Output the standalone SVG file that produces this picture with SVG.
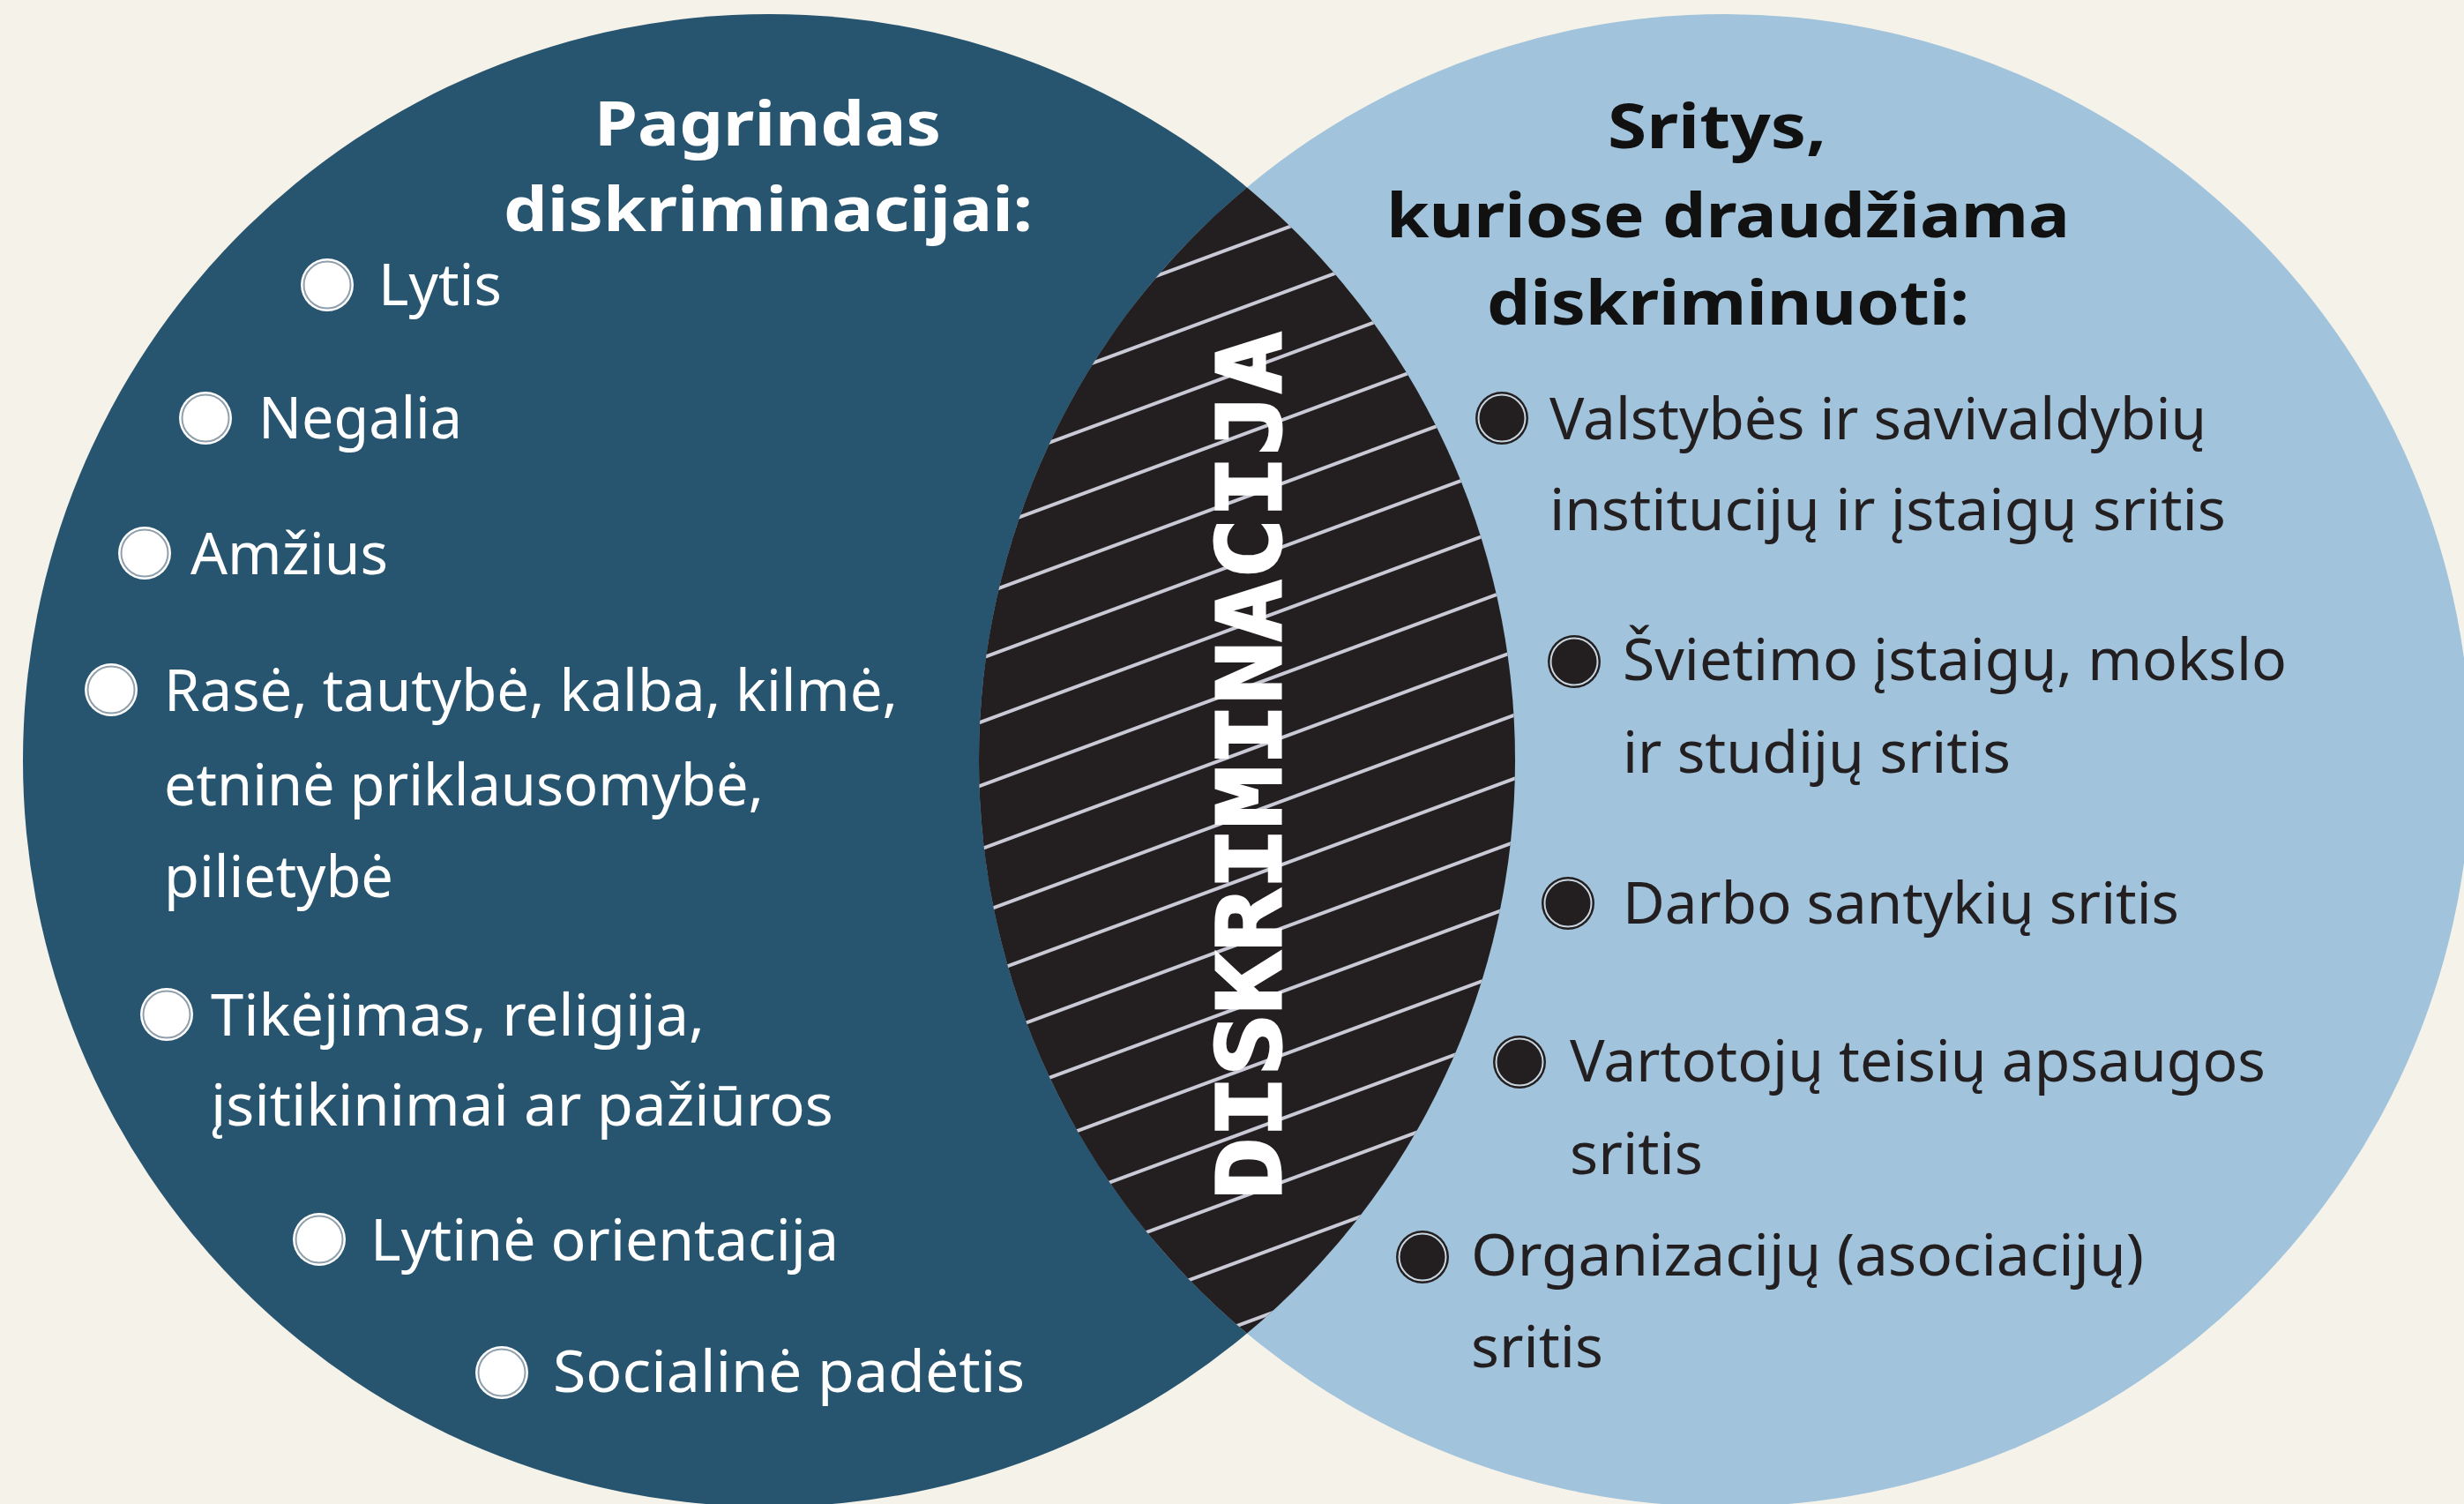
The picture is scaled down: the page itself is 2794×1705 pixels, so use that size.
<svg xmlns="http://www.w3.org/2000/svg" width="2794" height="1705" viewBox="0 0 2794 1705">
<style>
.bg{fill:#F5F2EA}
.cl{fill:#27546E}
.cr{fill:#A1C3DB}
.lens{fill:#231F20}
.stripe{stroke:#C9CAD6;stroke-width:4;fill:none}
.tw{font-family:"Noto Sans","Open Sans","Liberation Sans",sans-serif;font-size:66px;fill:#FFFFFF}
.td{font-family:"Noto Sans","Open Sans","Liberation Sans",sans-serif;font-size:66px;fill:#231F20}
.hw{font-family:"Noto Sans","Liberation Sans",sans-serif;font-weight:700;font-size:70px;fill:#FFFFFF}
.hd{font-family:"Noto Sans","Liberation Sans",sans-serif;font-weight:700;font-size:70px;fill:#111111}
.vt{font-family:"DejaVu Sans Mono","Liberation Mono",monospace;font-weight:700;font-size:100px;fill:#FFFFFF;stroke:#FFFFFF;stroke-width:3}
.bwo{fill:#FFFFFF}
.bwi{fill:#FFFFFF;stroke:#8FA0AC;stroke-width:2}
.bdo{fill:#231F20}
.bdi{fill:#231F20;stroke:#C9D6E0;stroke-width:2}
</style>
<defs>
<clipPath id="lensClip">
<path d="M1414,212.4 A846,846 0 0 1 1414,1511.6 A846,846 0 0 1 1414,212.4 Z"/>
</clipPath>
</defs>
<rect class="bg" x="0" y="0" width="2794" height="1705"/>
<g id="circle-left"><circle class="cl" cx="872" cy="862" r="846"/></g>
<g id="circle-right"><circle class="cr" cx="1956" cy="862" r="846"/></g>
<g id="intersection">
<path class="lens" d="M1414,212.4 A846,846 0 0 1 1414,1511.6 A846,846 0 0 1 1414,212.4 Z"/>
<g clip-path="url(#lensClip)">
<path class="stripe" d="M1100,175 L1730,-58.1 M1100,247 L1730,13.9 M1100,319 L1730,85.9 M1100,391 L1730,157.9 M1100,463 L1730,229.9 M1100,535 L1730,301.9 M1100,607 L1730,373.9 M1100,679 L1730,445.9 M1100,751 L1730,517.9 M1100,823 L1730,589.9 M1100,895 L1730,661.9 M1100,967 L1730,733.9 M1100,1039 L1730,805.9 M1100,1111 L1730,877.9 M1100,1183 L1730,949.9 M1100,1255 L1730,1021.9 M1100,1327 L1730,1093.9 M1100,1399 L1730,1165.9 M1100,1471 L1730,1237.9 M1100,1543 L1730,1309.9 M1100,1615 L1730,1381.9 M1100,1687 L1730,1453.9 M1100,1759 L1730,1525.9"/>
</g>
<text class="vt" transform="translate(1452,1360) rotate(-90)" x="0" y="0" textLength="984" lengthAdjust="spacingAndGlyphs">DISKRIMINACIJA</text>
</g>
<g id="left-title">
<text class="hw" x="674" y="165" textLength="393" lengthAdjust="spacingAndGlyphs">Pagrindas</text>
<text class="hw" x="571" y="262" textLength="600" lengthAdjust="spacingAndGlyphs">diskriminacijai:</text>
</g>
<g id="left-items">
<g id="item-lytis"><circle class="bwo" cx="371" cy="323" r="30"/><circle class="bwi" cx="371" cy="323" r="26.5"/><text class="tw" x="429" y="346" textLength="140" lengthAdjust="spacingAndGlyphs">Lytis</text></g>
<g id="item-negalia"><circle class="bwo" cx="233" cy="474" r="30"/><circle class="bwi" cx="233" cy="474" r="26.5"/><text class="tw" x="293" y="497" textLength="231" lengthAdjust="spacingAndGlyphs">Negalia</text></g>
<g id="item-amzius"><circle class="bwo" cx="164" cy="627" r="30"/><circle class="bwi" cx="164" cy="627" r="26.5"/><text class="tw" x="216" y="651" textLength="224" lengthAdjust="spacingAndGlyphs">Amžius</text></g>
<g id="item-rase"><circle class="bwo" cx="126" cy="782" r="30"/><circle class="bwi" cx="126" cy="782" r="26.5"/>
<text class="tw" x="186" y="806" textLength="832" lengthAdjust="spacingAndGlyphs">Rasė, tautybė, kalba, kilmė,</text>
<text class="tw" x="186" y="913" textLength="680" lengthAdjust="spacingAndGlyphs">etninė priklausomybė,</text>
<text class="tw" x="186" y="1017" textLength="260" lengthAdjust="spacingAndGlyphs">pilietybė</text></g>
<g id="item-tikejimas"><circle class="bwo" cx="189" cy="1150" r="30"/><circle class="bwi" cx="189" cy="1150" r="26.5"/>
<text class="tw" x="239" y="1174" textLength="560" lengthAdjust="spacingAndGlyphs">Tikėjimas, religija,</text>
<text class="tw" x="239" y="1276" textLength="706" lengthAdjust="spacingAndGlyphs">įsitikinimai ar pažiūros</text></g>
<g id="item-orientacija"><circle class="bwo" cx="362" cy="1405" r="30"/><circle class="bwi" cx="362" cy="1405" r="26.5"/><text class="tw" x="420" y="1429" textLength="531" lengthAdjust="spacingAndGlyphs">Lytinė orientacija</text></g>
<g id="item-socialine"><circle class="bwo" cx="569" cy="1556" r="30"/><circle class="bwi" cx="569" cy="1556" r="26.5"/><text class="tw" x="627" y="1578" textLength="535" lengthAdjust="spacingAndGlyphs">Socialinė padėtis</text></g>
</g>
<g id="right-title">
<text class="hd" x="1823" y="168" textLength="248" lengthAdjust="spacingAndGlyphs">Sritys,</text>
<text class="hd" x="1572" y="269" textLength="775" lengthAdjust="spacingAndGlyphs">kuriose draudžiama</text>
<text class="hd" x="1686" y="368" textLength="547" lengthAdjust="spacingAndGlyphs">diskriminuoti:</text>
</g>
<g id="right-items">
<g id="item-valstybes"><circle class="bdo" cx="1703" cy="474" r="30"/><circle class="bdi" cx="1703" cy="474" r="26.5"/>
<text class="td" x="1757" y="498" textLength="745" lengthAdjust="spacingAndGlyphs">Valstybės ir savivaldybių</text>
<text class="td" x="1757" y="601" textLength="767" lengthAdjust="spacingAndGlyphs">institucijų ir įstaigų sritis</text></g>
<g id="item-svietimo"><circle class="bdo" cx="1785" cy="750" r="30"/><circle class="bdi" cx="1785" cy="750" r="26.5"/>
<text class="td" x="1840" y="771" textLength="753" lengthAdjust="spacingAndGlyphs">Švietimo įstaigų, mokslo</text>
<text class="td" x="1840" y="876" textLength="440" lengthAdjust="spacingAndGlyphs">ir studijų sritis</text></g>
<g id="item-darbo"><circle class="bdo" cx="1778" cy="1024" r="30"/><circle class="bdi" cx="1778" cy="1024" r="26.5"/>
<text class="td" x="1840" y="1047" textLength="631" lengthAdjust="spacingAndGlyphs">Darbo santykių sritis</text></g>
<g id="item-vartotoju"><circle class="bdo" cx="1723" cy="1204" r="30"/><circle class="bdi" cx="1723" cy="1204" r="26.5"/>
<text class="td" x="1780" y="1226" textLength="789" lengthAdjust="spacingAndGlyphs">Vartotojų teisių apsaugos</text>
<text class="td" x="1780" y="1331" textLength="151" lengthAdjust="spacingAndGlyphs">sritis</text></g>
<g id="item-organizaciju"><circle class="bdo" cx="1613" cy="1425" r="30"/><circle class="bdi" cx="1613" cy="1425" r="26.5"/>
<text class="td" x="1668" y="1446" textLength="763" lengthAdjust="spacingAndGlyphs">Organizacijų (asociacijų)</text>
<text class="td" x="1668" y="1550" textLength="150" lengthAdjust="spacingAndGlyphs">sritis</text></g>
</g>
</svg>
